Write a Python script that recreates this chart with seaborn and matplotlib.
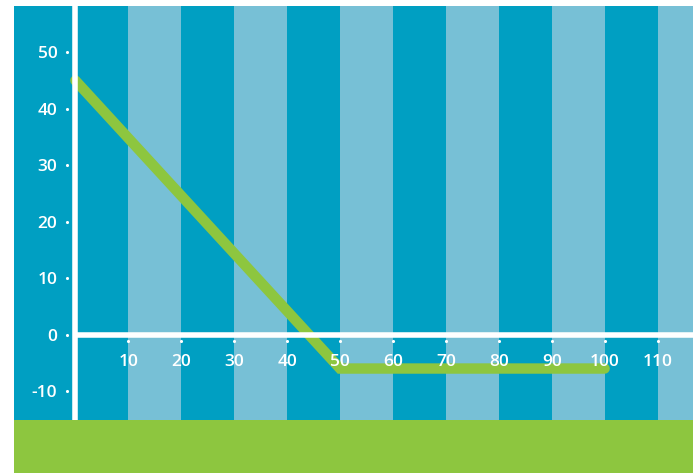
import numpy as np
import matplotlib
matplotlib.use("Agg")
import matplotlib.pyplot as plt
import seaborn as sns

# payoff line
price = [0, 50, 100]
payoff = [45, -6, -6]

x_ticks = [10, 20, 30, 40, 50, 60, 70, 80, 90, 100, 110]
y_ticks = [-10, 0, 10, 20, 30, 40, 50]

DARK = "#009FC2"
LIGHT = "#77C0D6"
GREEN = "#8DC63F"

sns.set_style("white")
plt.rcParams["font.family"] = ["Open Sans", "DejaVu Sans"]
plt.rcParams["axes.unicode_minus"] = False

fig = plt.figure(figsize=(6.93, 4.73), dpi=100)
ax = fig.add_axes([14 / 693, 0, 679 / 693, 467 / 473])
ax.set_xlim(-11.6, 116.7)
ax.set_ylim(-24.5, 58.2)
ax.set_facecolor(DARK)
ax.set_axisbelow(False)

# alternating stripes
for s in range(10, 120, 20):
    ax.axvspan(s, s + 10, color=LIGHT, lw=0, zorder=0)

# green band at the bottom
ax.axhspan(-24.5, -15.2, color=GREEN, lw=0, zorder=2.7)

# line sits under the axis lines and labels
sns.lineplot(x=price, y=payoff, ax=ax, color=GREEN, lw=7.5,
             solid_capstyle="round", solid_joinstyle="miter", zorder=2)

# axes through the origin
for side in ["top", "right"]:
    ax.spines[side].set_visible(False)
ax.spines["left"].set_position(("data", 0))
ax.spines["bottom"].set_position(("data", 0))
ax.spines["left"].set_bounds(-15.2, 58.2)
ax.spines["bottom"].set_bounds(0.5, 116.7)
for side in ["left", "bottom"]:
    ax.spines[side].set_color("white")
    ax.spines[side].set_linewidth(4)

ax.set_xticks(x_ticks)
ax.set_yticks(y_ticks)
ax.tick_params(axis="both", length=0, labelcolor="white", labelsize=12.5)
ax.tick_params(axis="y", pad=13)
ax.tick_params(axis="x", pad=14)
for lab in ax.get_xticklabels() + ax.get_yticklabels():
    lab.set_fontweight("semibold")

# tick dots
ax.scatter(x_ticks, [-1.2] * len(x_ticks), s=5, color="white", lw=0, zorder=3)
ax.scatter([-1.65] * len(y_ticks), y_ticks, s=5, color="white", lw=0, zorder=3)
ax.set_xlabel("")
ax.set_ylabel("")

fig.savefig("out.png", dpi=100, facecolor="white")
